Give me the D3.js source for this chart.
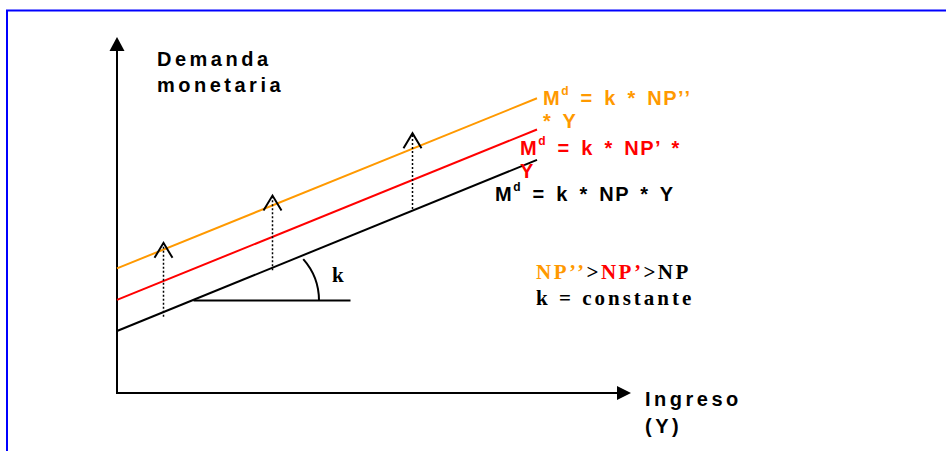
<!DOCTYPE html>
<html>
<head>
<meta charset="utf-8">
<script src="https://cdn.jsdelivr.net/npm/d3@7"></script>
<style>
  html, body { margin: 0; padding: 0; background: #fff; }
  svg { display: block; }
  .sans { font-family: "Liberation Sans", Arial, sans-serif; font-weight: bold; }
  .serif { font-family: "Liberation Serif", "Times New Roman", serif; font-weight: bold; }
</style>
</head>
<body>
<div id="chart"></div>
<script>
// ---- data (chart units) ----
const ingreso = [0, 84];                 // x extent of the demand lines
const mdNP   = [17.7, 66.6];             // Md = k*NP*Y
const mdNP1  = [26.6, 75.3];             // Md = k*NP'*Y
const mdNP2  = [35.6, 84.2];             // Md = k*NP''*Y
const shiftX      = [9.3, 31.1, 59.1];   // dotted shift arrows
const shiftBottom = [21.8, 35.1, 52.6];
const shiftTop    = [42.9, 56.4, 74.2];
const angleBase = { x0: 15.3, x1: 46.7, y: 26.4 };
const angleArc  = { cx: 27.9, cy: 26.4, r: 12.5, a0: -0.726, a1: 0 };
const colors = { NP: "#000000", NP1: "#ff0000", NP2: "#ff9900" };
const yLabel = ["Demanda", "monetaria"];
const xLabel = ["Ingreso", "(Y)"];

const W = 946, H = 451;
const svg = d3.select("#chart").append("svg").attr("width", W).attr("height", H);

// frame
svg.append("path").attr("d", `M7,${H + 5} V10.5 H${W + 5}`)
  .attr("fill", "none").attr("stroke", "#0000ff").attr("stroke-width", 2);

const x = d3.scaleLinear().domain([0, 100]).range([117, 617]);
const y = d3.scaleLinear().domain([0, 100]).range([393, 43]);

// axes
const axisCol = "#000";
svg.append("line").attr("x1", x(0)).attr("y1", y(0) + 1).attr("x2", x(0)).attr("y2", y(100) + 6)
  .attr("stroke", axisCol).attr("stroke-width", 2);
svg.append("line").attr("x1", x(0) - 1).attr("y1", y(0)).attr("x2", x(100) + 2).attr("y2", y(0))
  .attr("stroke", axisCol).attr("stroke-width", 2);
// arrowheads
const yt = [x(0), y(100) - 6];
svg.append("path").attr("d", `M${yt[0]},${yt[1]} L${yt[0] - 7.5},${yt[1] + 14} L${yt[0] + 7.5},${yt[1] + 14} Z`).attr("fill", axisCol);
const xt = [x(100) + 14, y(0)];
svg.append("path").attr("d", `M${xt[0]},${xt[1]} L${xt[0] - 14},${xt[1] - 7} L${xt[0] - 14},${xt[1] + 7} Z`).attr("fill", axisCol);

// demand lines
const line = d3.line().x(d => x(d[0])).y(d => y(d[1]));
[[mdNP2, colors.NP2], [mdNP1, colors.NP1], [mdNP, colors.NP]].forEach(([vals, c]) => {
  svg.append("path").datum(ingreso.map((xi, i) => [xi, vals[i]]))
    .attr("d", line).attr("fill", "none").attr("stroke", c).attr("stroke-width", 2);
});

// angle base and arc
svg.append("line").attr("x1", x(angleBase.x0)).attr("x2", x(angleBase.x1))
  .attr("y1", y(angleBase.y)).attr("y2", y(angleBase.y))
  .attr("stroke", "#000").attr("stroke-width", 2);
const ap = d3.path();
ap.arc(x(angleArc.cx), y(angleArc.cy), x(angleArc.r) - x(0), angleArc.a0, angleArc.a1);
svg.append("path").attr("d", ap.toString()).attr("fill", "none").attr("stroke", "#000").attr("stroke-width", 2);

// dotted shift arrows
shiftX.forEach((sx, i) => {
  const px = x(sx), yb = y(shiftBottom[i]), ytp = y(shiftTop[i]);
  svg.append("line").attr("x1", px).attr("x2", px).attr("y1", yb).attr("y2", ytp + 1)
    .attr("stroke", "#000").attr("stroke-width", 1.5).attr("stroke-dasharray", "2,2");
  svg.append("path").attr("d", `M${px - 9},${ytp + 15} L${px},${ytp} L${px + 9},${ytp + 15}`)
    .attr("fill", "none").attr("stroke", "#000").attr("stroke-width", 2);
});

// axis labels
const yl = svg.append("text").attr("class", "sans").attr("font-size", 20).attr("letter-spacing", 3.5)
  .attr("x", 157).attr("y", 66);
yLabel.forEach((t, i) => yl.append("tspan").attr("x", 157).attr("dy", i ? 26 : 0).text(t));
const xl = svg.append("text").attr("class", "sans").attr("font-size", 20).attr("letter-spacing", 3.5)
  .attr("x", 645).attr("y", 406);
xLabel.forEach((t, i) => xl.append("tspan").attr("x", 645).attr("dy", i ? 27 : 0).text(t));

// equation labels
function eq(x0, yb, color, lines) {
  const t = svg.append("text").attr("class", "sans").attr("font-size", 20)
    .attr("letter-spacing", 1.5).attr("word-spacing", 3.5).attr("fill", color);
  lines.forEach((ln, i) => {
    if (ln.sup) {
      t.append("tspan").attr("x", x0).attr("y", yb).text("M");
      t.append("tspan").attr("dy", -10).attr("font-size", 12).text("d");
      t.append("tspan").attr("dy", 10).text(" " + ln.rest);
    } else {
      t.append("tspan").attr("x", x0).attr("y", yb + 23 * i).text(ln.rest);
    }
  });
}
eq(543, 105, colors.NP2, [{ sup: true, rest: "= k * NP’’" }, { rest: "* Y" }]);
eq(520, 155, colors.NP1, [{ sup: true, rest: "= k * NP’ *" }, { rest: "Y" }]);
eq(495, 201, colors.NP, [{ sup: true, rest: "= k * NP * Y" }]);

// k label
svg.append("text").attr("class", "serif").attr("font-size", 21).attr("x", 332).attr("y", 282).text("k");

// legend text
const lg = svg.append("text").attr("class", "serif").attr("font-size", 21).attr("letter-spacing", 2.5)
  .attr("x", 536).attr("y", 279);
lg.append("tspan").attr("fill", colors.NP2).text("NP’’");
lg.append("tspan").attr("fill", "#000").text(">");
lg.append("tspan").attr("fill", colors.NP1).text("NP’");
lg.append("tspan").attr("fill", "#000").text(">NP");
svg.append("text").attr("class", "serif").attr("font-size", 21).attr("letter-spacing", 3)
  .attr("x", 536).attr("y", 305).text("k = constante");
</script>
</body>
</html>
